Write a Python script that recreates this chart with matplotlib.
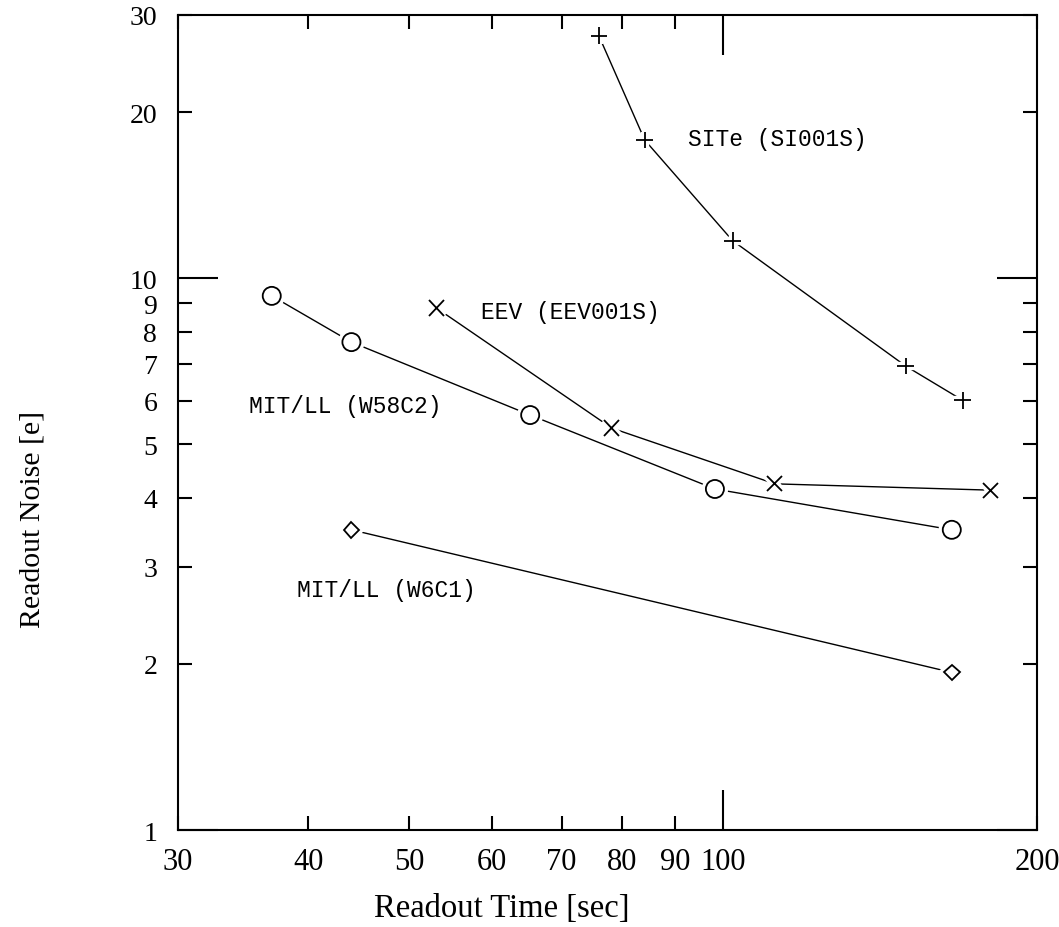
import numpy as np
import matplotlib
matplotlib.use('Agg')
import matplotlib.pyplot as plt
import matplotlib.patheffects as pe

# readout time [sec] / readout noise [e] per detector
site_t = [76.0, 84.1, 102.1, 149.7, 169.7]
site_n = [27.5, 17.8, 11.7, 6.93, 6.01]
eev_t = [53.1, 78.2, 112.1, 180.5]
eev_n = [8.83, 5.35, 4.24, 4.13]
w58_t = [36.9, 44.0, 65.3, 98.2, 165.7]
w58_n = [9.29, 7.66, 5.65, 4.15, 3.50]
w6_t = [44.0, 165.7]
w6_n = [3.50, 1.93]

labels = ['SITe (SI001S)', 'EEV (EEV001S)', 'MIT/LL (W58C2)', 'MIT/LL (W6C1)']
label_pos = [(92.5, 17.95), (58.6, 8.69), (35.1, 5.89), (39.0, 2.73)]

xt_major = [100]
xt_minor = [30, 40, 50, 60, 70, 80, 90, 200]
yt_major = [1, 10]
yt_minor = [2, 3, 4, 5, 6, 7, 8, 9, 20, 30]

serif = 'Liberation Serif'
mono = 'Liberation Mono'

fig = plt.figure(figsize=(10.59, 9.28), dpi=100)
ax = fig.add_axes([0.1681, 0.1045, 0.8111, 0.8783])
ax.set_xscale('log'); ax.set_yscale('log')
ax.set_xlim(30, 200); ax.set_ylim(1, 30)

halo = [pe.withStroke(linewidth=6, foreground='white')]
series = [(site_t, site_n, '+', 12), (eev_t, eev_n, 'x', 11),
          (w58_t, w58_n, 'o', 13), (w6_t, w6_n, 'D', 8)]
for t, n, m, ms in series:
    ax.plot(t, n, color='black', lw=1.0, zorder=2)
    ax.plot(t, n, ls='none', marker=m, ms=ms, mfc='white', mec='black',
            mew=1.3, zorder=3, path_effects=halo)

for lab, (x, y) in zip(labels, label_pos):
    ax.text(x, y, lab, family=mono, fontsize=16.5, va='center', ha='left')

ax.set_xticks(xt_major, labels=[str(v) for v in xt_major])
ax.set_xticks(xt_minor, labels=[str(v) for v in xt_minor], minor=True)
ax.set_yticks(yt_major, labels=[str(v) for v in yt_major])
ax.set_yticks(yt_minor, labels=[str(v) for v in yt_minor], minor=True)
for which, L in (('major', 29), ('minor', 10)):
    ax.tick_params(axis='both', which=which, direction='in', length=L, width=1.5,
                   top=True, right=True)
ax.tick_params(axis='x', which='both', pad=12, labelsize=22)
ax.tick_params(axis='y', which='both', pad=15, labelsize=20)
for lab in ax.get_xticklabels(which='both') + ax.get_yticklabels(which='both'):
    lab.set_family(serif)
for s in ax.spines.values():
    s.set_linewidth(1.5)

ax.set_xlabel('Readout Time [sec]', family=serif, fontsize=23.5)
ax.set_ylabel('Readout Noise [e]', family=serif, fontsize=21.5)
ax.xaxis.set_label_coords(0.377, -0.077)
ax.yaxis.set_label_coords(-0.154, 0.382)

plt.savefig('out.png', dpi=100)
